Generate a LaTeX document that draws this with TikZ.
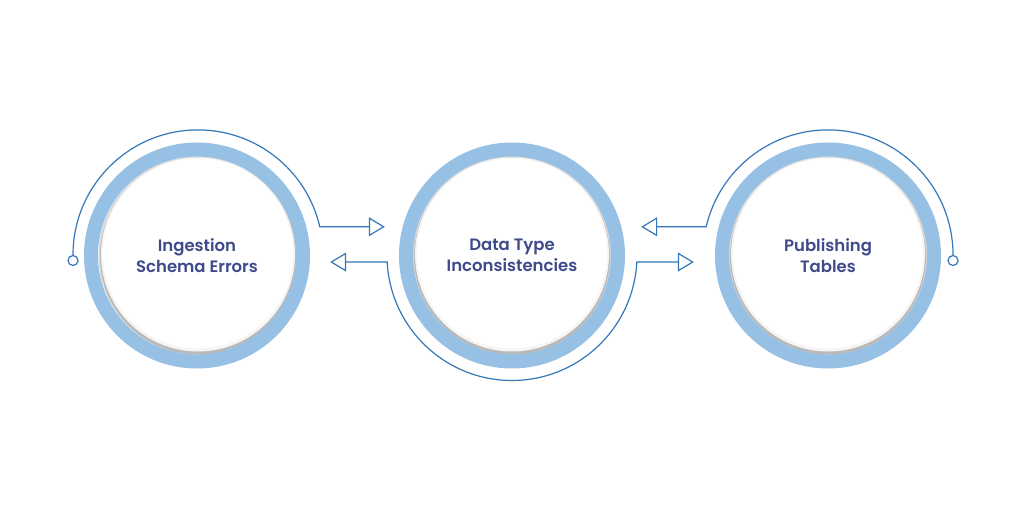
\documentclass[tikz,border=0pt]{standalone}
\usepackage{fontspec}
\setmainfont{Poppins}[BoldFont={Poppins SemiBold}]
\usetikzlibrary{arrows.meta,calc}
\definecolor{ringblue}{RGB}{150,192,228}
\definecolor{wireblue}{RGB}{52,120,185}
\definecolor{txtblue}{RGB}{62,74,138}
\begin{document}
\begin{tikzpicture}[x=1pt,y=1pt,
  stage/.style={circle,draw=ringblue,line width=14pt,minimum size=212pt,inner sep=0pt,
    font=\bfseries\fontsize{16.5}{21}\selectfont,text=txtblue,align=center},
  wire/.style={draw=wireblue,line width=1.2pt},
  tipend/.style={-{Triangle[open,length=16pt,width=19pt,line width=1.2pt]}},
  bothtips/.style={{Triangle[open,length=16pt,width=19pt,line width=1.2pt]}-{Triangle[open,length=16pt,width=19pt,line width=1.2pt]}},
  endcap/.style={circle,draw=wireblue,fill=white,line width=1.2pt,minimum size=10pt,inner sep=0pt}]
\useasboundingbox[fill=white] (0,0) rectangle (1024,512);
% inner shadows
\foreach \cx in {198,512,828}{
  \fill[gray!28] (\cx,256.5) circle (99.5);
  \fill[gray!55] (\cx,255.5) circle (98);
  \fill[white!92!gray] (\cx,257.5) circle (97);
  \fill[white] (\cx,258.5) circle (95);
}
\node[stage] (c1) at (197,256.5) {Ingestion\\Schema Errors};
\node[stage] (c2) at (512,256.5) {Data Type\\Inconsistencies};
\node[stage] (c3) at (828,256.5) {Publishing\\Tables};
\node[endcap] (e1) at (73,251.5) {};
\node[endcap] (e3) at (953,251.5) {};
% left arc
\draw[wire,tipend] (e1.north) arc[start angle=180,end angle=13,radius=125] -- ++(65,0);
% middle lower arc
\draw[wire,bothtips] ($(c2)+(183:125)+(-57,0)$) -- ++(57,0)
  arc[start angle=183,end angle=357,radius=125] -- ++(57,0);
% right arc
\draw[wire,tipend] (e3.north) arc[start angle=0,end angle=167,radius=125] -- ++(-65,0);
\end{tikzpicture}
\end{document}
